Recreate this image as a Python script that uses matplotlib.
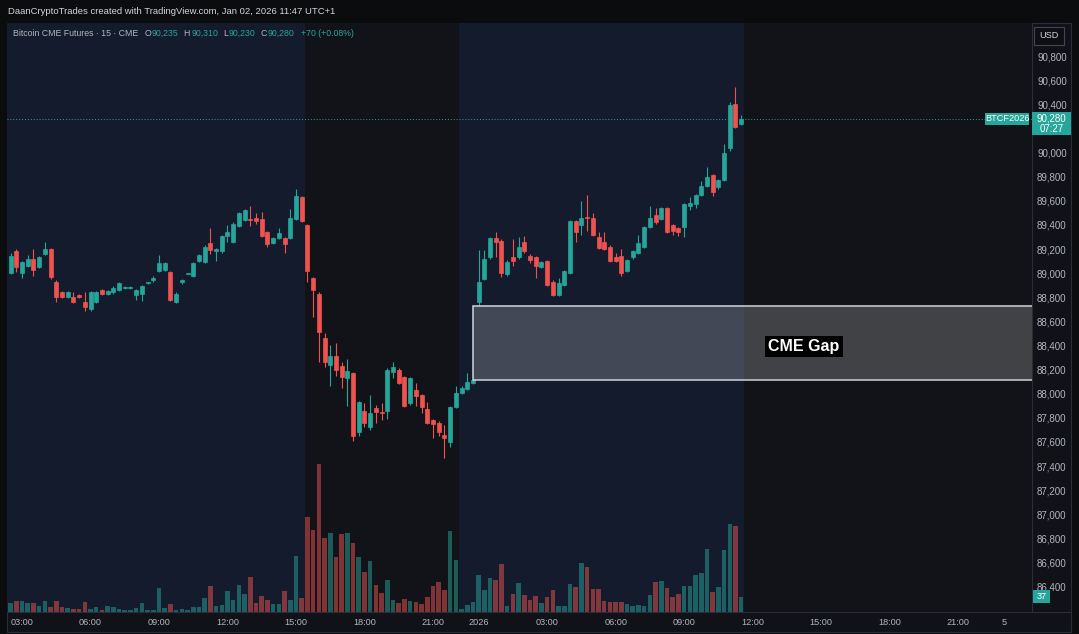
import numpy as np
import matplotlib
matplotlib.use("Agg")
import matplotlib.pyplot as plt
from matplotlib.patches import Rectangle

plt.rcParams['font.family'] = ['Liberation Sans', 'DejaVu Sans']

# BTC CME futures, 15m bars from Jan 01 02:30 to Jan 02 11:30 (UTC+1)
# bar index is continuous (TradingView skips the 23:00-00:00 break)
opens = [
    89000, 89180, 89000, 89060, 89120, 89050, 89160, 89200, 88930, 88840,
    88800, 88800, 88820, 88760, 88700, 88760, 88860, 88830, 88840, 88860,
    88875, 88875, 88820, 88830, 88915, 88940, 89020, 89030, 89010, 88760,
    88930, 88995, 88980, 89100, 89090, 89250, 89180, 89180, 89310, 89260,
    89390, 89440,
    89450, 89460, 89450, 89340, 89250, 89290, 89290, 89290, 89450, 89630,
    89400, 88960, 88830, 88460, 88240, 88310, 88230, 88130, 88170, 87680,
    87860, 87720, 87880, 87850, 87860, 88180, 88200, 88140, 87920, 88030,
    87990, 87870, 87780, 87760, 87660, 87600, 87890, 88010, 88040, 88090,
    88760, 88950, 89130, 89290, 89270, 88990, 89130, 89130, 89260, 89140,
    89130, 89050, 89100, 88930, 88820, 88900, 89000, 89430, 89400, 89465,
    89460, 89300, 89260, 89220, 89130, 89140, 89020, 89130, 89170, 89220,
    89380, 89480, 89450, 89540, 89400, 89370, 89380, 89560, 89570, 89650,
    89720, 89810, 89710, 89770, 90040, 90400, 90235]
highs = [
    89170, 89200, 89100, 89150, 89200, 89140, 89260, 89210, 88940, 88850,
    88850, 88840, 88830, 88840, 88850, 88850, 88870, 88860, 88890, 88930,
    88890, 88890, 88870, 88900, 88930, 88980, 89150, 89090, 89020, 88840,
    88950, 89005, 89090, 89160, 89230, 89370, 89210, 89320, 89400, 89420,
    89510, 89530,
    89560, 89500, 89510, 89350, 89300, 89370, 89300, 89530, 89700, 89640,
    89410, 88970, 88840, 88500, 88400, 88420, 88260, 88290, 88180, 87940,
    87920, 87990, 87910, 87920, 88210, 88260, 88210, 88150, 88140, 88090,
    88000, 87930, 87790, 87770, 87740, 87900, 88060, 88060, 88170, 88120,
    89190, 89190, 89300, 89340, 89280, 89110, 89280, 89300, 89310, 89160,
    89140, 89100, 89110, 88940, 88960, 89030, 89440, 89440, 89600, 89650,
    89500, 89340, 89340, 89230, 89170, 89200, 89120, 89190, 89320, 89390,
    89560, 89540, 89550, 89550, 89410, 89380, 89580, 89630, 89660, 89760,
    89880, 89820, 89780, 90070, 90420, 90540, 90310]
lows = [
    88990, 89010, 88960, 89050, 88980, 89040, 89150, 88950, 88760, 88790,
    88790, 88750, 88790, 88690, 88690, 88750, 88820, 88820, 88830, 88850,
    88870, 88870, 88780, 88770, 88910, 88930, 89010, 89020, 88770, 88750,
    88910, 88990, 88970, 89090, 89080, 89160, 89100, 89170, 89260, 89250,
    89380, 89430,
    89390, 89410, 89300, 89220, 89240, 89280, 89170, 89280, 89440, 89420,
    88930, 88640, 88260, 88220, 88060, 88150, 88050, 87900, 87610, 87650,
    87720, 87700, 87760, 87780, 87790, 88130, 88080, 87890, 87910, 87900,
    87840, 87750, 87630, 87650, 87470, 87560, 87880, 88000, 88030, 88080,
    88730, 88940, 89120, 89130, 88970, 88980, 89060, 89120, 89170, 89080,
    88960, 89040, 88890, 88810, 88810, 88890, 88990, 89260, 89320, 89350,
    89310, 89200, 89190, 89090, 89090, 88980, 89010, 89120, 89160, 89210,
    89370, 89410, 89440, 89330, 89320, 89310, 89300, 89520, 89540, 89640,
    89710, 89640, 89700, 89760, 90010, 90200, 90230]
closes = [
    89140, 89050, 89090, 89120, 89030, 89130, 89200, 88970, 88800, 88800,
    88840, 88760, 88800, 88720, 88840, 88840, 88830, 88850, 88880, 88920,
    88885, 88885, 88860, 88890, 88925, 88960, 89080, 89080, 88780, 88830,
    88940, 89005, 89080, 89150, 89220, 89190, 89200, 89310, 89340, 89410,
    89500, 89520,
    89440, 89430, 89310, 89240, 89290, 89330, 89240, 89460, 89640, 89430,
    89020, 88860, 88510, 88260, 88310, 88200, 88140, 88190, 87650, 87930,
    87760, 87840, 87850, 87840, 88200, 88220, 88090, 87900, 88130, 87980,
    87890, 87760, 87750, 87680, 87630, 87890, 88010, 88050, 88100, 88110,
    88930, 89120, 89290, 89260, 89000, 89090, 89100, 89220, 89180, 89110,
    89060, 89090, 88900, 88820, 88920, 89020, 89430, 89340, 89460, 89455,
    89320, 89210, 89200, 89100, 89100, 89000, 89110, 89180, 89250, 89380,
    89460, 89420, 89540, 89340, 89350, 89340, 89570, 89580, 89650, 89720,
    89800, 89670, 89770, 90000, 90390, 90210, 90280]
volumes = [
    22, 28, 28, 22, 22, 15, 28, 13, 27, 12, 11, 7, 7, 24, 7, 12, 6, 15, 12, 7,
    6, 6, 9, 21, 6, 6, 60, 9, 19, 6, 7, 6, 13, 13, 35, 64, 15, 17, 52, 29,
    67, 45,
    86, 21, 39, 29, 19, 19, 51, 29, 137, 35, 233, 201, 364, 183, 195, 136, 193, 195, 171, 136,
    99, 125, 66, 48, 80, 29, 21, 31, 28, 25, 19, 37, 64, 75, 53, 199, 127, 8, 18, 25,
    92, 53, 84, 78, 118, 14, 44, 72, 42, 29, 39, 21, 36, 53, 14, 14, 70, 61, 121, 111,
    56, 56, 28, 24, 24, 24, 19, 14, 17, 15, 41, 75, 76, 58, 37, 45, 64, 65, 91, 95,
    156, 50, 62, 152, 216, 211, 37]

tick_pos = [2, 14, 26, 38, 50, 62, 74, 82, 94, 106, 118, 130, 142, 154, 166, 174]
tick_labels = ['03:00', '06:00', '09:00', '12:00', '15:00', '18:00', '21:00', '2026',
               '03:00', '06:00', '09:00', '12:00', '15:00', '18:00', '21:00', '5']
# 90,200 sits under the last-price tag, so TradingView hides it
price_ticks = [p for p in range(86400, 90801, 200) if p != 90200]

gap_low, gap_high, gap_start = 88111, 88727, 81
last_price = 90280

UP = '#26a69a'
DOWN = '#ef5350'
BLUE_BG = '#141b2c'
DARK_BG = '#111319'
AXIS_BG = '#101217'
BORDER = '#2a2e39'
TXT = '#b2b5be'

W, H = 1079, 634
fig = plt.figure(figsize=(W / 100, H / 100), dpi=100, facecolor='#0b0c0e')

def fx(px):
    return px / W

def fy(py):
    return 1 - py / H

# axis strips
fig.add_artist(Rectangle((fx(1031.5), fy(632)), fx(1071 - 1031.5), (632 - 23) / H,
                         transform=fig.transFigure, fc=AXIS_BG, ec=BORDER, lw=0.8, zorder=-1))
fig.add_artist(Rectangle((fx(7), fy(632)), fx(1071 - 7), 20 / H,
                         transform=fig.transFigure, fc=AXIS_BG, ec=BORDER, lw=0.8, zorder=-1))

axv = fig.add_axes([fx(7), fy(612), fx(1031.5 - 7), (612 - 23) / H])
axv.set_facecolor(BLUE_BG)
axv.axvspan(51.5, 78.5, color=DARK_BG, lw=0)
axv.axvspan(128.5, 400, color=DARK_BG, lw=0)

x = np.arange(len(opens))
o = np.array(opens)
c = np.array(closes)
up = c >= o
cols = np.where(up, UP, DOWN)

axv.bar(x, volumes, width=0.8, color=cols, alpha=0.5, lw=0)
axv.set_ylim(0, 1450)
axv.set_xlim(-0.63, 178.86)
axv.set_yticks([])
axv.set_xticks(tick_pos)
axv.set_xticklabels(tick_labels)
axv.tick_params(axis='x', length=0, pad=4.5, labelsize=6.6, colors=TXT)
for s in axv.spines.values():
    s.set_visible(False)

ax = axv.twinx()
ax.vlines(x, lows, highs, colors=cols, lw=0.8, zorder=3)
ax.bar(x, np.abs(c - o), bottom=np.minimum(o, c), width=0.7, color=cols,
       edgecolor=cols, lw=0.5, zorder=4)
ax.set_ylim(86190, 91074)
ax.set_yticks(price_ticks)
ax.set_yticklabels([f'{p:,}' for p in price_ticks])
ax.tick_params(axis='y', length=0, pad=4, labelsize=7, colors=TXT)
for s in ax.spines.values():
    s.set_visible(False)

# last price dotted line
ax.axhline(last_price, color=UP, lw=0.7, ls=(0, (1, 2)), zorder=2)

# CME gap box
ax.add_patch(Rectangle((gap_start, gap_low), 300, gap_high - gap_low,
                       fc=(1, 1, 1, 0.2), ec='#d0d3da', lw=1.1, zorder=5))
ax.text(139, 88390, 'CME Gap', ha='center', va='center', fontsize=11.5,
        fontweight='bold', color='white', zorder=6,
        bbox=dict(boxstyle='square,pad=0.2', fc='black', ec='none'))

fig.canvas.draw()
renderer = fig.canvas.get_renderer()
yp = H - ax.transData.transform((0, last_price))[1]
yv = H - axv.transData.transform((0, volumes[-1]))[1]

# price tag on the axis
fig.add_artist(Rectangle((fx(1032), fy(yp + 16)), fx(39), 23 / H,
                         transform=fig.transFigure, fc=UP, ec='none', zorder=5))
fig.text(fx(1051.5), fy(yp), '90,280', ha='center', va='center',
         fontsize=7, color='white', zorder=6)
fig.text(fx(1051.5), fy(yp + 10), '07:27', ha='center', va='center',
         fontsize=7, color='white', zorder=6)
fig.add_artist(Rectangle((fx(985), fy(yp + 6)), fx(44), 12 / H,
                         transform=fig.transFigure, fc=UP, ec='none', zorder=5))
fig.text(fx(1007), fy(yp), 'BTCF2026', ha='center', va='center',
         fontsize=6.6, color='white', zorder=6)

# volume tag
fig.add_artist(Rectangle((fx(1033), fy(yv + 6.5)), fx(17), 13 / H,
                         transform=fig.transFigure, fc=UP, ec='none', zorder=5))
fig.text(fx(1041.5), fy(yv), '37', ha='center', va='center',
         fontsize=6.6, color='white', zorder=6)

# currency box
fig.add_artist(Rectangle((fx(1034), fy(45)), fx(30), 18 / H,
                         transform=fig.transFigure, fc='#0e0f13', ec='#434651', lw=0.8, zorder=5))
fig.text(fx(1049), fy(36), 'USD', ha='center', va='center', fontsize=6.6,
         color='#d1d4dc', zorder=6)

# header + legend line
fig.text(fx(8), fy(12), 'DaanCryptoTrades created with TradingView.com, Jan 02, 2026 11:47 UTC+1',
         ha='left', va='center', fontsize=6.8, color='#d1d4dc')
legend_parts = [('Bitcoin CME Futures · 15 · CME', TXT, 6), ('O', TXT, 1), ('90,235', UP, 5),
                ('H', TXT, 1), ('90,310', UP, 5), ('L', TXT, 1), ('90,230', UP, 5),
                ('C', TXT, 1), ('90,280', UP, 6), ('+70 (+0.08%)', UP, 0)]
cur = 13
for txt, col, gap in legend_parts:
    t = fig.text(fx(cur), fy(33), txt, ha='left', va='center', fontsize=6.3, color=col)
    bb = t.get_window_extent(renderer)
    cur = bb.x1 + gap

fig.savefig('out.png', dpi=100, facecolor=fig.get_facecolor())
